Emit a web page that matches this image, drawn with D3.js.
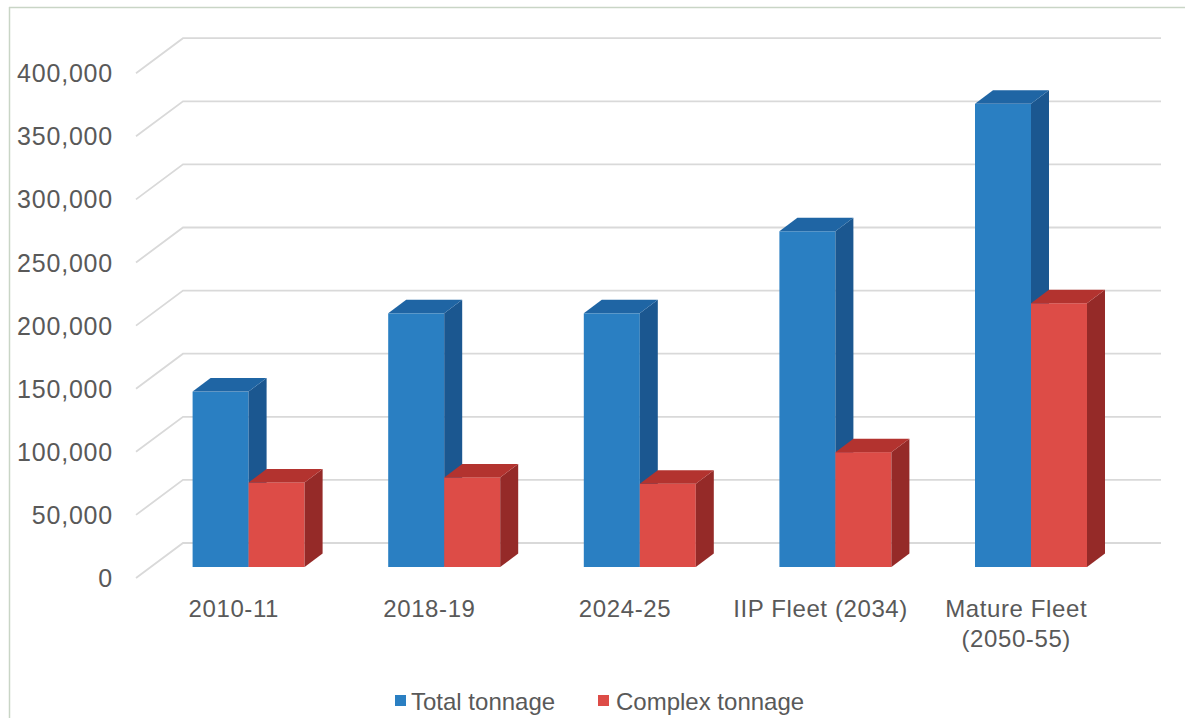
<!DOCTYPE html>
<html>
<head>
<meta charset="utf-8">
<script src="https://cdn.jsdelivr.net/npm/d3@7"></script>
<style>
  html, body { margin: 0; padding: 0; background: #ffffff; }
  svg { display: block; }
  text { font-family: "Liberation Sans", Arial, sans-serif; fill: #595959; }
</style>
</head>
<body>
<script>
// Fleet tonnage by period
const categories = ["2010-11", "2018-19", "2024-25", "IIP Fleet (2034)", "Mature Fleet (2050-55)"];
const categoryLines = [["2010-11"], ["2018-19"], ["2024-25"], ["IIP Fleet (2034)"], ["Mature Fleet", "(2050-55)"]];
const seriesNames = ["Total tonnage", "Complex tonnage"];
const totalTonnage = [139000, 201000, 201000, 266000, 367000];
const complexTonnage = [67000, 71000, 66000, 91000, 209000];
const yTicks = [0, 50000, 100000, 150000, 200000, 250000, 300000, 350000, 400000];

const W = 1185, H = 718;
const svg = d3.select("body").append("svg").attr("width", W).attr("height", H);

// outer frame (top and left edges only are visible)
svg.append("line").attr("x1", 9).attr("y1", 7.5).attr("x2", W).attr("y2", 7.5)
  .attr("stroke", "#c9d5c6").attr("stroke-width", 1.5);
svg.append("line").attr("x1", 9.5).attr("y1", 7).attr("x2", 9.5).attr("y2", H)
  .attr("stroke", "#c9d5c6").attr("stroke-width", 1.5);

// 3D layout: the bar plane sits midway in depth between the back wall and the floor's front edge
const baseY = 567;
const plotLeft = 150.8, plotRight = 1128.8;
const wallOff = { dx: 32.2, dy: -24 };   // bar plane -> back wall
const frontOff = { dx: -14.8, dy: 11 };  // bar plane -> front floor edge
const barDepth = { dx: 18, dy: -13.5 };  // thickness of each column

const y = d3.scaleLinear().domain([0, 400000]).range([baseY, baseY - 8 * 63.1]);
const x = d3.scaleBand().domain(categories).range([plotLeft, plotRight]).padding(0);
const xs = d3.scaleBand().domain(seriesNames).range([-56, 56]).padding(0);

const colors = {
  "Total tonnage":   { front: "#2a7fc2", top: "#1f65a4", side: "#1b5790", legend: "#2a7fc2" },
  "Complex tonnage": { front: "#dd4c47", top: "#b3332f", side: "#952a28", legend: "#dd4c47" }
};

// gridlines: left-wall diagonal + back-wall horizontal
const grid = svg.append("g").attr("fill", "none").attr("stroke", "#d9d9d9").attr("stroke-width", 1.8);
yTicks.forEach(v => {
  const yy = y(v);
  grid.append("path").attr("d", d3.line()([
    [plotLeft + frontOff.dx, yy + frontOff.dy],
    [plotLeft + wallOff.dx, yy + wallOff.dy],
    [plotRight + wallOff.dx, yy + wallOff.dy]
  ]));
});

// value axis labels
const fmt = d3.format(",");
svg.append("g").selectAll("text").data(yTicks).join("text")
  .attr("x", 113)
  .attr("y", d => y(d) + frontOff.dy)
  .attr("dy", "0.36em")
  .attr("text-anchor", "end")
  .attr("font-size", 25)
  .attr("letter-spacing", 0.8)
  .text(d => fmt(d));

// category labels along the floor's front edge
const catG = svg.append("g");
categories.forEach((c, i) => {
  const cx = x(c) + x.bandwidth() / 2 + frontOff.dx;
  const t = catG.append("text")
    .attr("x", cx).attr("y", 608)
    .attr("text-anchor", "middle")
    .attr("font-size", 24)
    .attr("letter-spacing", 0.6);
  categoryLines[i].forEach((line, j) => {
    t.append("tspan").attr("x", cx).attr("dy", j === 0 ? "0.36em" : "1.25em").text(line);
  });
});

// columns
const series = [
  { name: "Total tonnage", values: totalTonnage },
  { name: "Complex tonnage", values: complexTonnage }
];
const bars = svg.append("g");
categories.forEach((c, i) => {
  series.forEach(s => {
    const col = colors[s.name];
    const x0 = x(c) + x.bandwidth() / 2 + xs(s.name);
    const x1 = x0 + xs.bandwidth();
    const yt = y(s.values[i]);
    const yb = y(0);
    const dx = barDepth.dx, dy = barDepth.dy;
    const g = bars.append("g");
    // front face
    g.append("rect").attr("x", x0).attr("y", yt).attr("width", x1 - x0).attr("height", yb - yt)
      .attr("fill", col.front);
    // side face
    g.append("path").attr("d", d3.line()([[x1, yt], [x1 + dx, yt + dy], [x1 + dx, yb + dy], [x1, yb]]) + "Z")
      .attr("fill", col.side);
    // top face
    g.append("path").attr("d", d3.line()([[x0, yt], [x0 + dx, yt + dy], [x1 + dx, yt + dy], [x1, yt]]) + "Z")
      .attr("fill", col.top);
  });
});

// legend
const legend = svg.append("g");
const legendItems = [
  { name: "Total tonnage", sx: 395, tx: 411 },
  { name: "Complex tonnage", sx: 598, tx: 616 }
];
legendItems.forEach(it => {
  legend.append("rect").attr("x", it.sx).attr("y", 695).attr("width", 11).attr("height", 11)
    .attr("fill", colors[it.name].legend);
  legend.append("text").attr("x", it.tx).attr("y", 701).attr("dy", "0.36em")
    .attr("font-size", 24).text(it.name);
});
</script>
</body>
</html>
